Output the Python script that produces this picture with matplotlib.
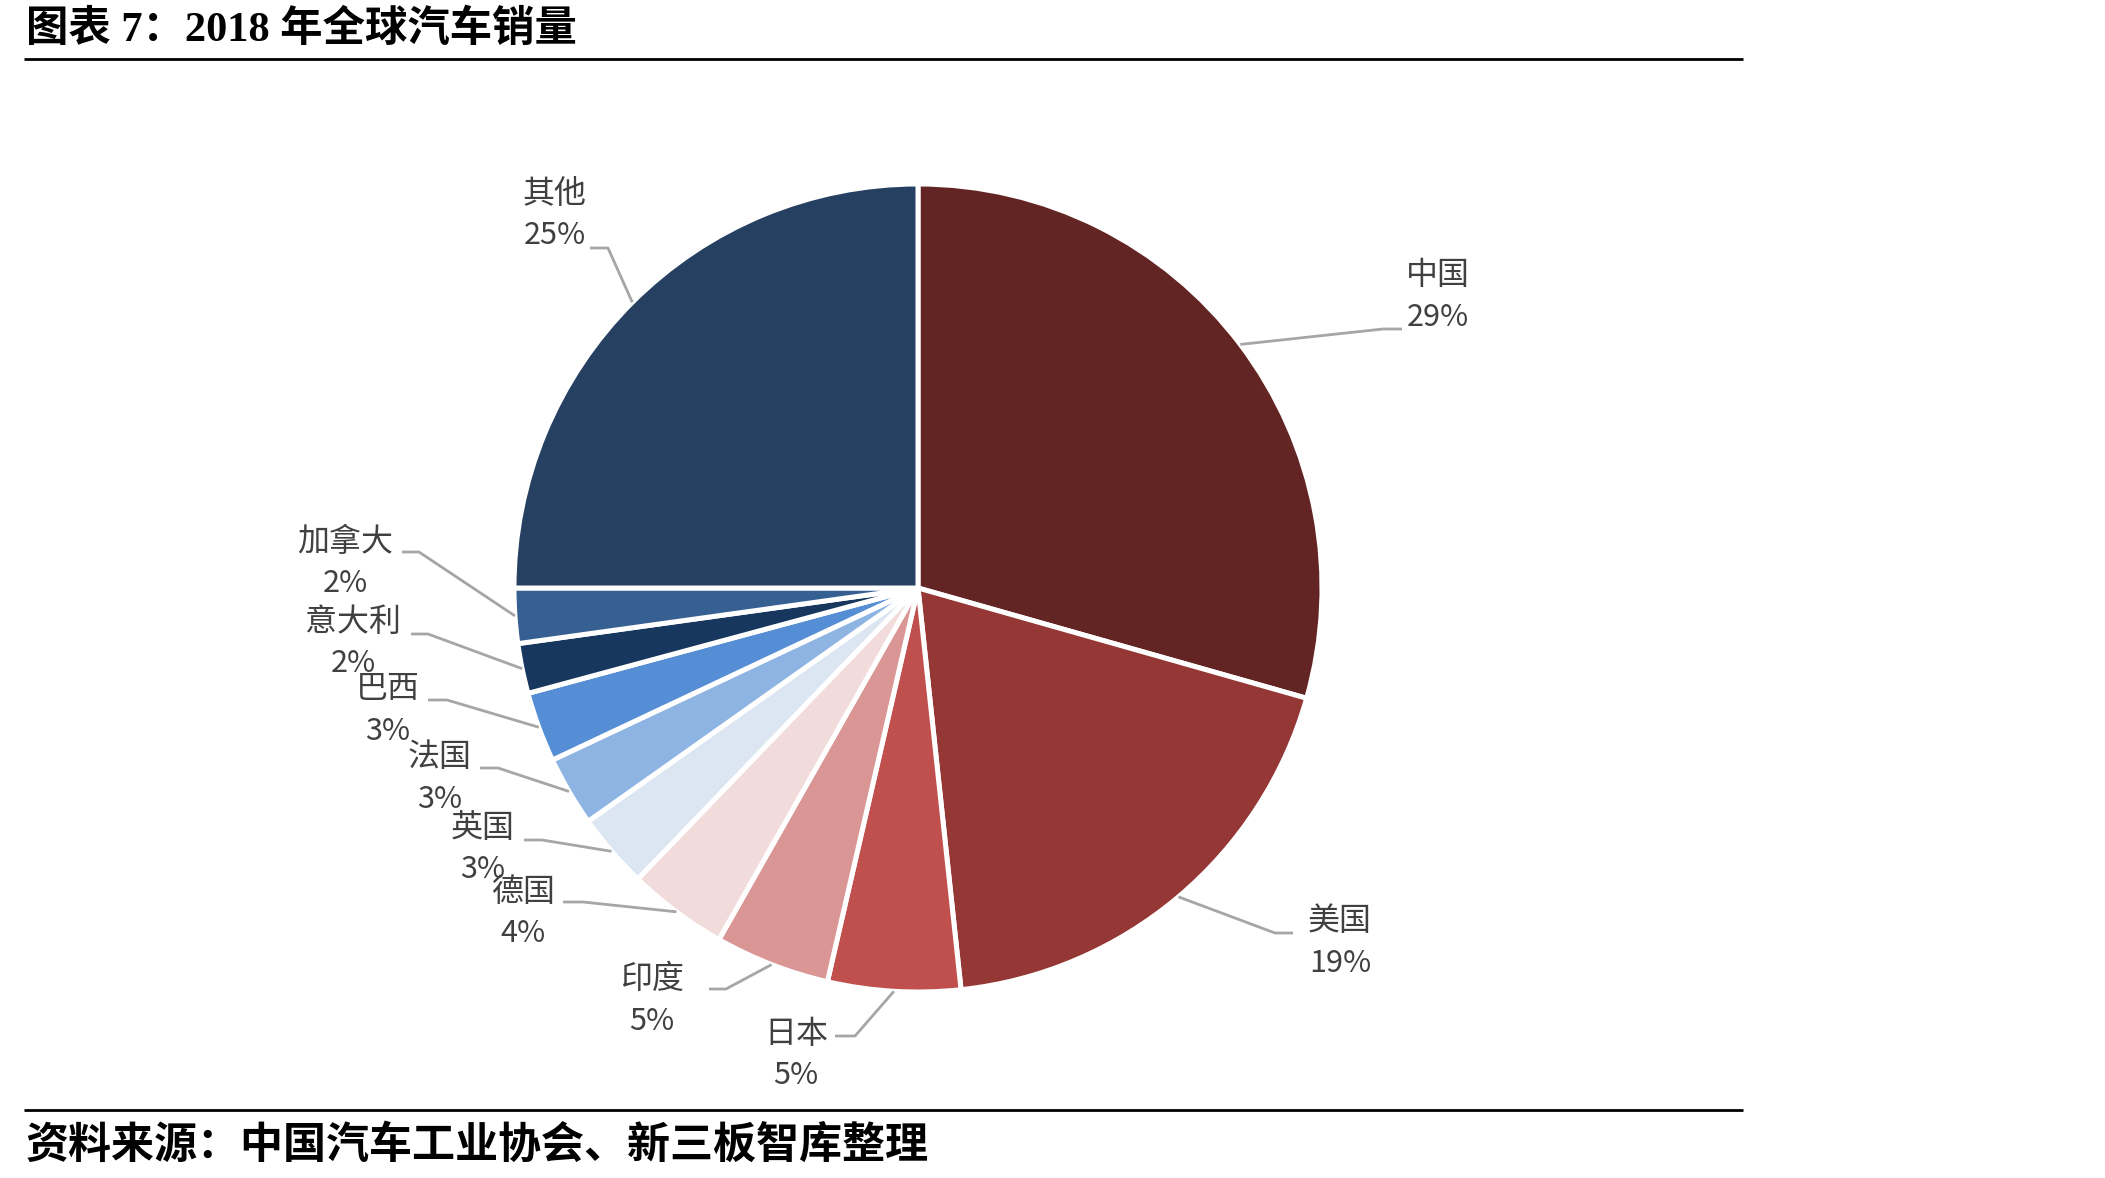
import matplotlib
matplotlib.use("Agg")
import matplotlib.pyplot as plt
import numpy as np

plt.rcParams['font.family'] = ['Noto Sans CJK SC', 'DejaVu Sans']

# ---- data ----
countries = ["中国", "美国", "日本", "印度", "德国", "英国", "法国", "巴西", "意大利", "加拿大", "其他"]
shares = [29.4, 18.9, 5.3, 4.6, 4.0, 3.0, 2.8, 2.8, 2.0, 2.2, 25.0]
colors = ["#632523", "#953735", "#C0504D", "#D99694", "#F2DCDB", "#DCE6F2",
          "#8EB4E3", "#558ED5", "#17375E", "#376092", "#254061"]
title = "图表 7：2018 年全球汽车销量"
source = "资料来源：中国汽车工业协会、新三板智库整理"

# ---- layout (pixel coords, y from top) ----
W, H = 2105, 1178
def Y(y):
    return H - y

center = (918, Y(588))
radius = 404
# label centre (name), elbow point, line end near label
label_layout = [
    ((1438, 275), (1383, 329), (1402, 329)),   # 中国
    ((1340, 921), (1275, 933), (1293, 933)),   # 美国
    ((796, 1034), (855, 1036), (835, 1036)),   # 日本
    ((652, 979), (726, 989), (709, 989)),      # 印度
    ((523, 892), (583, 902), (563, 902)),      # 德国
    ((483, 828), (542, 840), (524, 840)),      # 英国
    ((440, 757), (498, 768), (480, 768)),      # 法国
    ((388, 689), (447, 700), (428, 700)),      # 巴西
    ((353, 622), (428, 634), (411, 634)),      # 意大利
    ((345, 542), (419, 552), (402, 552)),      # 加拿大
    ((555, 194), (608, 248), (590, 248)),      # 其他
]
line_gap = 42

fig = plt.figure(figsize=(W / 100, H / 100), dpi=100)
ax = fig.add_axes([0, 0, 1, 1])

wedges, _ = ax.pie(shares, colors=colors, startangle=90, counterclock=False,
                   center=center, radius=radius,
                   wedgeprops=dict(edgecolor="white", linewidth=3.6))
ax.set_xlim(0, W)
ax.set_ylim(0, H)
ax.set_aspect("equal")
ax.axis("off")

total = sum(shares)
for w, name, val, (lab, elbow, end) in zip(wedges, countries, shares, label_layout):
    mid = np.deg2rad((w.theta1 + w.theta2) / 2)
    rim = (center[0] + radius * np.cos(mid), center[1] + radius * np.sin(mid))
    ax.plot([rim[0], elbow[0], end[0]], [rim[1], Y(elbow[1]), Y(end[1])],
            color="#A6A6A6", lw=2.0, solid_capstyle="butt", zorder=1)
    ax.text(lab[0], Y(lab[1]), name, ha="center", va="center",
            fontsize=23, color="#404040")
    ax.text(lab[0], Y(lab[1] + line_gap), f"{round(val / total * 100):d}%",
            ha="center", va="center", fontsize=22, color="#404040")

# title and source
ax.text(26, Y(30), title, ha="left", va="center", fontsize=30.5, fontweight="bold",
        color="black", family=["Liberation Serif", "Noto Sans CJK SC"])
ax.plot([24, 1743], [Y(59), Y(59)], color="black", lw=2.0, solid_capstyle="butt")
ax.plot([24, 1743], [Y(1110), Y(1110)], color="black", lw=2.0, solid_capstyle="butt")
ax.text(26, Y(1145), source, ha="left", va="center", fontsize=31, fontweight="bold",
        color="black")

fig.savefig("out.png", dpi=100)
